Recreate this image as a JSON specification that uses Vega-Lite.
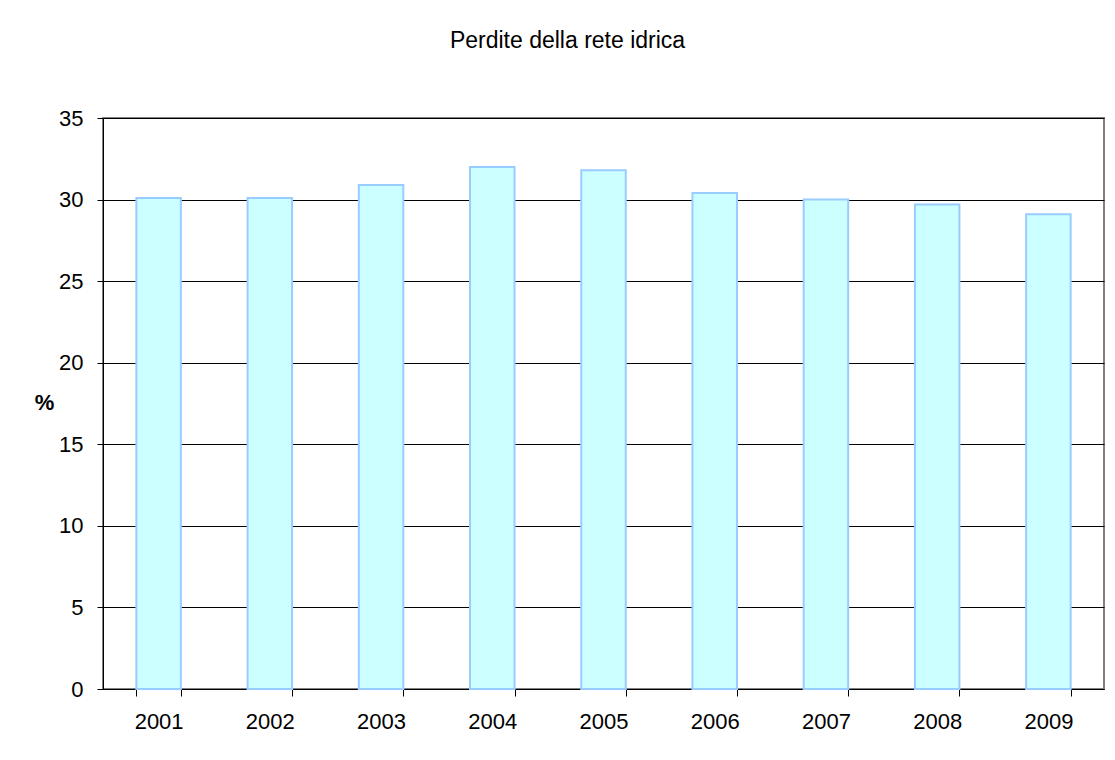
{
  "$schema": "https://vega.github.io/schema/vega-lite/v6.json",
  "autosize": "none",
  "width": 1001,
  "height": 571,
  "padding": {"left": 103, "top": 118, "right": 11, "bottom": 71},
  "background": "white",
  "title": {
    "text": "Perdite della rete idrica",
    "font": "Liberation Sans",
    "fontSize": 23,
    "fontWeight": "normal",
    "color": "black",
    "anchor": "middle",
    "offset": 54,
    "dx": -36
  },
  "data": {
    "values": [
      {"anno": "2001", "perdite": 30.1},
      {"anno": "2002", "perdite": 30.1},
      {"anno": "2003", "perdite": 30.9},
      {"anno": "2004", "perdite": 32.0},
      {"anno": "2005", "perdite": 31.8},
      {"anno": "2006", "perdite": 30.4},
      {"anno": "2007", "perdite": 30.0},
      {"anno": "2008", "perdite": 29.7},
      {"anno": "2009", "perdite": 29.1}
    ]
  },
  "mark": {"type": "bar", "fill": "#CCFFFF", "stroke": "#99CCFF", "strokeWidth": 2},
  "encoding": {
    "x": {
      "field": "anno",
      "type": "ordinal",
      "scale": {"paddingInner": 0.6, "paddingOuter": 0.3},
      "axis": {
        "title": null,
        "labelAngle": 0,
        "labelFont": "Liberation Sans",
        "labelFontSize": 22,
        "labelColor": "black",
        "labelPadding": 15,
        "domainColor": "black",
        "tickColor": "black",
        "tickSize": 7,
        "tickBand": "extent",
        "grid": false
      }
    },
    "y": {
      "field": "perdite",
      "type": "quantitative",
      "scale": {"domain": [0, 35], "nice": false},
      "axis": {
        "title": "%",
        "titleAngle": 0,
        "titleFont": "Liberation Sans",
        "titleFontSize": 22,
        "titleFontWeight": "bold",
        "titleColor": "black",
        "titleAlign": "center",
        "titleBaseline": "middle",
        "titleX": -59,
        "titleY": 284,
        "values": [0, 5, 10, 15, 20, 25, 30, 35],
        "labelFont": "Liberation Sans",
        "labelFontSize": 22,
        "labelColor": "black",
        "labelPadding": 14,
        "domainColor": "black",
        "tickColor": "black",
        "tickSize": 6,
        "grid": true,
        "gridColor": "black",
        "gridOpacity": 1,
        "gridWidth": 1
      }
    }
  },
  "config": {
    "view": {"stroke": "#808080", "strokeWidth": 2}
  }
}
